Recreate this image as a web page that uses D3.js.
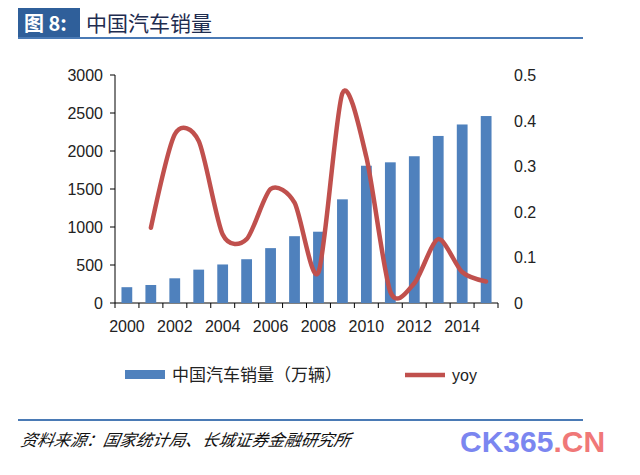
<!DOCTYPE html>
<html><head><meta charset="utf-8">
<script src="https://cdn.jsdelivr.net/npm/d3@7"></script>
<style>body{margin:0;background:#fff}</style>
</head><body>
<script>
// data
var years = ["2000","2001","2002","2003","2004","2005","2006","2007","2008","2009","2010","2011","2012","2013","2014","2015"];
var sales = [208, 237, 325, 439, 507, 576, 722, 879, 938, 1364, 1806, 1851, 1931, 2198, 2349, 2460];
var yoy = [null, 0.165, 0.37, 0.355, 0.15, 0.14, 0.25, 0.22, 0.067, 0.46, 0.32, 0.025, 0.043, 0.14, 0.068, 0.047];
var leftTicks = [0, 500, 1000, 1500, 2000, 2500, 3000];
var rightTicks = [0, 0.1, 0.2, 0.3, 0.4, 0.5];
var xLabels = ["2000","2002","2004","2006","2008","2010","2012","2014"];

var W = 640, H = 475;
var svg = d3.select("body").append("svg").attr("width", W).attr("height", H);
var font = "'Liberation Sans', Arial, sans-serif";
var cjk = "'Noto Sans CJK SC', sans-serif";

/***** header *****/
svg.append("rect").attr("x", 18).attr("y", 8).attr("width", 62).attr("height", 30).attr("fill", "#2f5f9a");
svg.append("text").attr("x", 24).attr("y", 31).text("图 8:")
    .attr("font-family", cjk).attr("font-weight", "bold").attr("font-size", 20).attr("fill", "#fff");
svg.append("text").attr("x", 86).attr("y", 31).text("中国汽车销量")
    .attr("font-family", cjk).attr("font-size", 21).attr("fill", "#1f2d50");
svg.append("line").attr("x1", 18).attr("x2", 583).attr("y1", 38).attr("y2", 38)
    .attr("stroke", "#4a7ab5").attr("stroke-width", 2);

/***** scales *****/
var x = d3.scaleBand().domain(years).range([115, 498]).paddingInner(0.55).paddingOuter(0.27);
var xStep = d3.scaleBand().domain(years).range([115, 498]);
var yL = d3.scaleLinear().domain([0, 3000]).range([303, 75]);
var yR = d3.scaleLinear().domain([0, 0.5]).range([303, 75]);

/***** axes *****/
var g = svg.append("g").attr("font-family", font).attr("font-size", 16).attr("fill", "#222");
g.append("line").attr("x1", 115).attr("x2", 115).attr("y1", 75).attr("y2", 303).attr("stroke", "#000");
g.append("line").attr("x1", 115).attr("x2", 498).attr("y1", 303).attr("y2", 303).attr("stroke", "#000");
leftTicks.forEach(function (t) {
    g.append("line").attr("x1", 110).attr("x2", 115).attr("y1", yL(t)).attr("y2", yL(t)).attr("stroke", "#000");
    g.append("text").attr("x", 103).attr("y", yL(t) + 6).attr("text-anchor", "end").text(t);
});
rightTicks.forEach(function (t) {
    g.append("text").attr("x", 514).attr("y", yR(t) + 6).text(t === 0 ? "0" : d3.format(".1f")(t));
});
years.forEach(function (yv) {
    var xx = xStep(yv);
    g.append("line").attr("x1", xx).attr("x2", xx).attr("y1", 303).attr("y2", 308).attr("stroke", "#000");
});
g.append("line").attr("x1", 498).attr("x2", 498).attr("y1", 303).attr("y2", 308).attr("stroke", "#000");
xLabels.forEach(function (yv) {
    g.append("text").attr("x", xStep(yv) + xStep.bandwidth() / 2).attr("y", 332)
        .attr("text-anchor", "middle").text(yv);
});

/***** bars *****/
svg.selectAll(".bar").data(sales).enter().append("rect")
    .attr("x", function (d, i) { return x(years[i]); })
    .attr("y", function (d) { return yL(d); })
    .attr("width", x.bandwidth())
    .attr("height", function (d) { return 303 - yL(d); })
    .attr("fill", "#4f81bd");

/***** yoy line *****/
var line = d3.line()
    .defined(function (d) { return d != null; })
    .x(function (d, i) { return xStep(years[i]) + xStep.bandwidth() / 2; })
    .y(function (d) { return yR(d); })
    .curve(d3.curveCardinal.tension(0.2));
svg.append("path").datum(yoy).attr("d", line).attr("fill", "none")
    .attr("stroke", "#c0504d").attr("stroke-width", 4.5).attr("stroke-linecap", "round");

/***** legend *****/
svg.append("rect").attr("x", 125).attr("y", 370).attr("width", 40).attr("height", 9).attr("fill", "#4f81bd");
svg.append("text").attr("x", 172).attr("y", 381).text("中国汽车销量（万辆）")
    .attr("font-family", cjk).attr("font-size", 17).attr("fill", "#222");
svg.append("line").attr("x1", 405).attr("x2", 445).attr("y1", 375).attr("y2", 375)
    .attr("stroke", "#c0504d").attr("stroke-width", 4.5);
svg.append("text").attr("x", 452).attr("y", 381).text("yoy")
    .attr("font-family", font).attr("font-size", 16).attr("fill", "#222");

/***** footer *****/
svg.append("line").attr("x1", 18).attr("x2", 583).attr("y1", 420).attr("y2", 420)
    .attr("stroke", "#4a7ab5").attr("stroke-width", 2);
svg.append("text").attr("x", 20).attr("y", 446).text("资料来源：国家统计局、长城证券金融研究所")
    .attr("font-family", cjk).attr("font-style", "italic").attr("font-size", 16.5).attr("fill", "#111")
    .attr("transform", "skewX(-10) translate(78.6,0)");
var wm = svg.append("text").attr("x", 460).attr("y", 452).attr("font-family", font)
    .attr("font-weight", "bold").attr("font-size", 30);
wm.append("tspan").text("CK365").attr("fill", "#7b86f0");
wm.append("tspan").text(".CN").attr("fill", "#f07878");
</script>
</body></html>
